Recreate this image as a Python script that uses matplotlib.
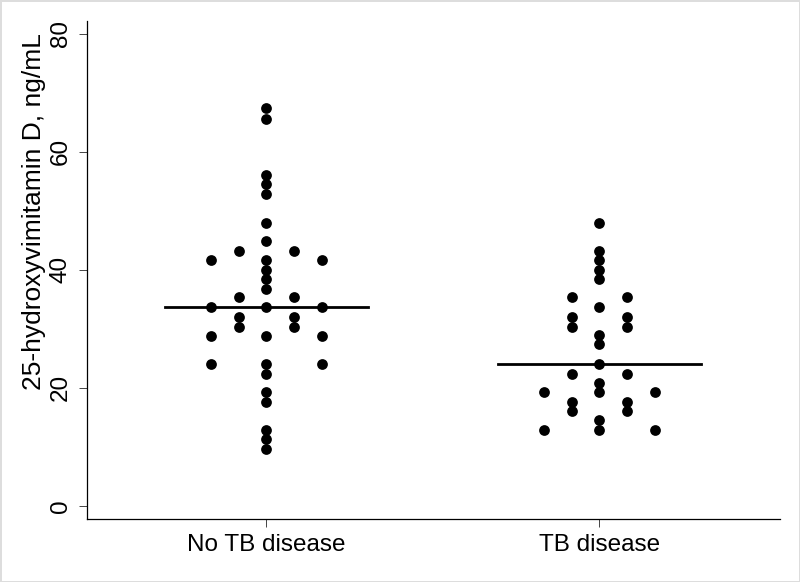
import numpy as np
import matplotlib
matplotlib.use("Agg")
import matplotlib.pyplot as plt
from collections import Counter

plt.rcParams['font.family'] = ['Liberation Sans', 'DejaVu Sans']

groups = ["No TB disease", "TB disease"]
no_tb = [67.4, 65.5, 56.0, 54.5, 52.8, 48.0, 44.9, 43.2, 43.2, 41.6, 41.6, 41.6,
         40.0, 38.4, 36.7, 35.3, 35.3, 33.6, 33.6, 33.6, 32.0, 32.0, 30.3, 30.3,
         28.8, 28.8, 28.8, 24.0, 24.0, 24.0, 22.4, 19.2, 17.6, 12.9, 11.3, 9.6]
tb = [48.0, 43.2, 41.6, 40.0, 38.4, 35.3, 35.3, 33.6, 32.0, 32.0, 30.3, 30.3,
      28.9, 27.4, 24.0, 22.4, 22.4, 20.8, 19.2, 19.2, 19.2, 17.6, 17.6,
      16.0, 16.0, 14.5, 12.8, 12.8, 12.8]
yticks = [0, 20, 40, 60, 80]

def dot_positions(center, vals, step=0.083):
    # spread equal values sideways, centred on the group
    xs, ys = [], []
    for v, n in Counter(vals).items():
        for i in range(n):
            xs.append(center + (2 * i - (n - 1)) * step)
            ys.append(v)
    return xs, ys

fig = plt.figure(figsize=(8, 5.82), dpi=100)
fig.patch.set_edgecolor("#dddddd")
fig.patch.set_linewidth(2)
ax = fig.add_axes([0.10875, 0.1082, 0.866, 0.8557])

for k, vals in enumerate([no_tb, tb]):
    c = k + 1
    xs, ys = dot_positions(c, vals)
    ax.scatter(xs, ys, s=60, color="black", linewidths=0, zorder=3)
    ax.plot([c - 0.305, c + 0.305], [np.median(vals)] * 2, color="black", lw=2.0, zorder=2)

ax.set_xlim(0.461, 2.542)
ax.set_ylim(-2.25, 82.15)
ax.set_xticks([1, 2])
ax.set_xticklabels(groups, fontsize=17.5)
ax.set_yticks(yticks)
ax.set_yticklabels([str(t) for t in yticks], fontsize=17.5, rotation=90, va="center")
ax.set_ylabel("25-hydroxyvimitamin D, ng/mL", fontsize=19)
ax.yaxis.set_label_coords(-0.059, 0.618)

for side in ["top", "right"]:
    ax.spines[side].set_visible(False)
for side in ["left", "bottom"]:
    ax.spines[side].set_linewidth(0.9)
ax.tick_params(axis="both", length=6, width=0.7, color="#444444", pad=5)

fig.savefig("out.png", dpi=100, edgecolor=fig.get_edgecolor())
